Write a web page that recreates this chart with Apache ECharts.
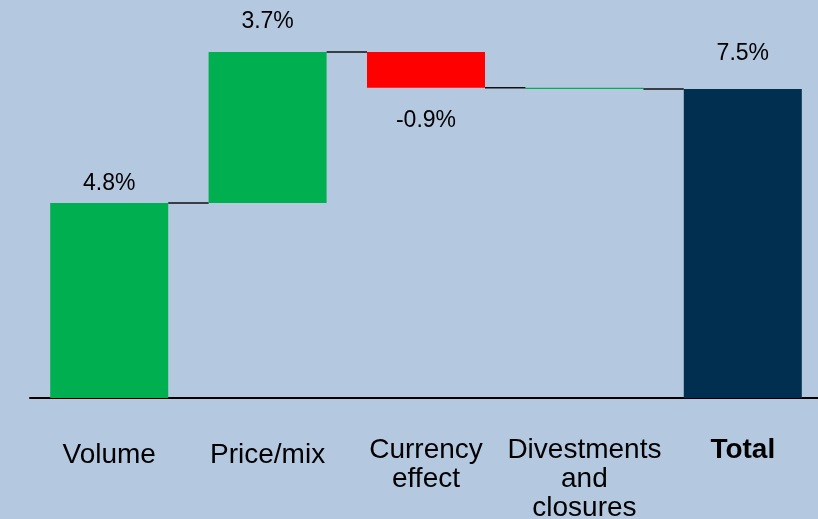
<!DOCTYPE html>
<html>
<head>
<meta charset="utf-8">
<script src="https://cdn.jsdelivr.net/npm/echarts@6/dist/echarts.min.js"></script>
<style>
  html, body { margin: 0; padding: 0; background: #b4c8e0; }
  #chart { width: 818px; height: 519px; }
</style>
</head>
<body>
<div id="chart"></div>
<script>
// 数据
const categories = ['Volume', 'Price/mix', 'Currency\neffect', 'Divestments\nand\nclosures', 'Total']
const changes = [4.73, 3.67, -0.87, -0.03]
const totalValue = 7.5
const valueLabels = ['4.8%', '3.7%', '-0.9%', '', '7.5%']

// 样式
const barColors = ['#00b050', '#00b050', '#ff0000', '#00b050', '#002f4f']
const labelPos = ['top', 'top', 'bottom', 'top', 'top']
const labelDist = [8, 19, 21, 0, 24]
const barW = 118
const fontFamily = 'Liberation Sans, Arial, sans-serif'

// 计算瀑布图的底座和高度
let cum = 0
const bases = []
const heights = []
const levels = []
changes.forEach(v => {
  const next = cum + v
  bases.push(Math.min(cum, next))
  heights.push(Math.abs(v))
  cum = next
  levels.push(cum)
})
bases.push(0)
heights.push(totalValue)

const myChart = echarts.init(document.getElementById('chart'))

// 单行标签稍微下移
const fmtLabel = v => {
  if (v === 'Total') return '{b|Total}'
  if (v.indexOf('\n') < 0) return '{s|' + v + '}'
  return v
}

const option = {
  animation: false,
  backgroundColor: '#b4c8e0',
  grid: { left: 30, width: 792, top: 27.2, bottom: 121, outerBoundsMode: 'none', containLabel: false },
  xAxis: {
    type: 'category',
    data: categories,
    axisLine: { lineStyle: { color: '#000', width: 2 } },
    axisTick: { show: false },
    axisLabel: {
      interval: 0,
      margin: 38,
      color: '#000',
      fontSize: 28,
      lineHeight: 29,
      fontFamily,
      formatter: fmtLabel,
      rich: {
        s: { fontSize: 28, lineHeight: 39, color: '#000', fontFamily },
        b: { fontWeight: 'bold', fontSize: 28, lineHeight: 29, color: '#000', fontFamily }
      }
    }
  },
  yAxis: { type: 'value', min: 0, max: 9, show: false },
  series: [
    // 透明底座
    {
      type: 'bar',
      stack: 'wf',
      barWidth: barW,
      itemStyle: { color: 'transparent' },
      silent: true,
      data: bases
    },
    // 可见柱
    {
      type: 'bar',
      stack: 'wf',
      barWidth: barW,
      data: heights.map((h, i) => ({
        value: h,
        itemStyle: { color: barColors[i] },
        label: {
          show: valueLabels[i] !== '',
          position: labelPos[i],
          distance: labelDist[i],
          formatter: valueLabels[i],
          color: '#000',
          fontSize: 23,
          fontFamily
        }
      }))
    },
    // 连接线
    {
      type: 'custom',
      silent: true,
      z: 5,
      data: levels.map((l, i) => [i, l]),
      renderItem: (params, api) => {
        const p = api.coord([api.value(0), api.value(1)])
        const band = api.size([1, 0])[0]
        const half = barW / 2
        return {
          type: 'line',
          shape: { x1: p[0] + half, y1: p[1], x2: p[0] + band - half, y2: p[1] },
          style: { stroke: '#111', lineWidth: 1.5 }
        }
      }
    }
  ]
}

myChart.setOption(option)
</script>
</body>
</html>
